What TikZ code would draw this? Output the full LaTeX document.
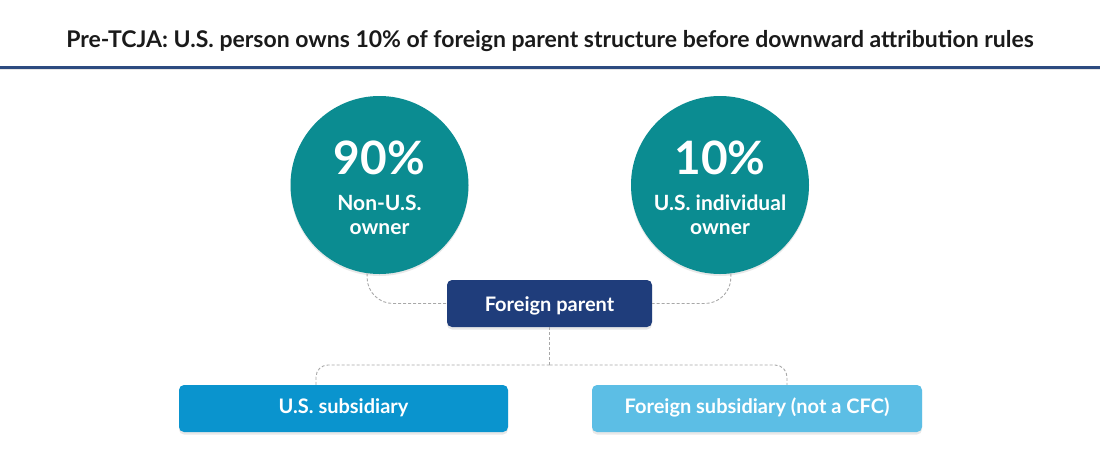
\documentclass[tikz,border=0pt]{standalone}
\usepackage{fontspec}
\setmainfont{Lato}
\usetikzlibrary{shadows,calc}
\definecolor{titletext}{HTML}{1A1A1A}
\definecolor{rulecol}{HTML}{2D4B80}
\definecolor{tealc}{HTML}{0B8C91}
\definecolor{navyc}{HTML}{1F3D7B}
\definecolor{usblue}{HTML}{0A94CE}
\definecolor{fsblue}{HTML}{5CBEE5}
\definecolor{conn}{HTML}{A8A8A8}
\tikzset{
  owner/.style={circle, fill=tealc, minimum size=178pt, inner sep=0pt,
    drop shadow={opacity=0.18, shadow xshift=0pt, shadow yshift=-2pt}},
  entity/.style={rounded corners=5pt, minimum height=47pt, inner sep=0pt,
    drop shadow={opacity=0.18, shadow xshift=0pt, shadow yshift=-2.5pt}},
  etext/.style={text=white, font=\bfseries\fontsize{20}{22}\selectfont, anchor=base, inner sep=0pt},
  pct/.style={text=white, font=\bfseries\fontsize{46}{50}\selectfont, anchor=base, inner sep=0pt},
  olabel/.style={text=white, font=\bfseries\fontsize{21}{23}\selectfont, anchor=base, inner sep=0pt},
  link/.style={draw=conn, line width=0.9pt, dash pattern=on 3pt off 2pt}
}
\begin{document}
\begin{tikzpicture}[x=1pt,y=-1pt]
\useasboundingbox (0,0) rectangle (1100,456);
\fill[white] (0,0) rectangle (1100,456);
% title
\node[text=titletext, font=\bfseries\fontsize{23}{26}\selectfont, anchor=base, inner sep=0pt] (title) at (550,47) {Pre-TCJA: U.S. person owns 10\% of foreign parent structure before downward attribution rules};
\draw[rulecol, line width=3pt] (0,67) -- (1100,67);
\draw[black!10, line width=1pt] (0,69.5) -- (1100,69.5);
% owners
\node[owner] (lc) at (379.5,185) {};
\node[owner] (rc) at (720,185) {};
\node[pct] (lpct) at (379.5,174) {90\%};
\node[olabel] (ll1) at (379.5,210) {Non-U.S.};
\node[olabel] (ll2) at (379.5,234) {owner};
\node[pct] (rpct) at (720,174) {10\%};
\node[olabel] (rl1) at (720,210) {U.S. individual};
\node[olabel] (rl2) at (720,234) {owner};
% entities
\node[entity, fill=navyc, minimum width=205pt] (fp) at (549.5,303.5) {};
\node[entity, fill=usblue, minimum width=329pt] (us) at (343.5,408.5) {};
\node[entity, fill=fsblue, minimum width=330pt] (fs) at (757,408.5) {};
\node[etext] (fpt) at (549.5,311) {Foreign parent};
\node[etext] (ust) at (343.5,413) {U.S. subsidiary};
\node[etext] (fst) at (757,413) {Foreign subsidiary (not a CFC)};
% connectors
\coordinate (j) at (549.5,365);
\coordinate (usin) at ($(us.north)+(-27.5,0)$);
\coordinate (fsin) at ($(fs.north)+(30,0)$);
\draw[link, rounded corners=26pt] (lc.262.9) |- (fp.west);
\draw[link, rounded corners=26pt] (rc.277.1) |- (fp.east);
\draw[link] (fp.south) -- (j);
\draw[link, rounded corners=12pt] (j) -| (usin);
\draw[link, rounded corners=12pt] (j) -| (fsin);
\end{tikzpicture}
\end{document}
